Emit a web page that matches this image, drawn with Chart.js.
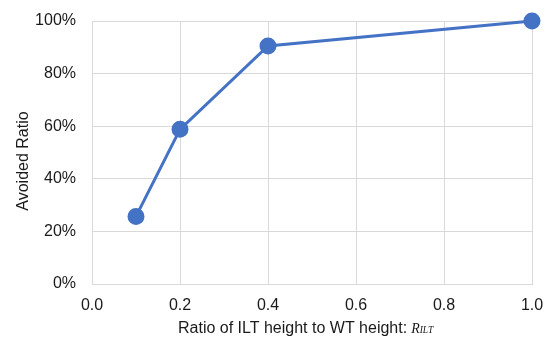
<!DOCTYPE html>
<html>
<head>
<meta charset="utf-8">
<script src="https://cdn.jsdelivr.net/npm/chart.js@4/dist/chart.umd.min.js"></script>
<style>
  html, body { margin: 0; padding: 0; background: #fff; }
  #wrap { width: 545px; height: 338px; position: relative; }
</style>
</head>
<body>
<div id="wrap"><canvas id="c" width="545" height="338"></canvas></div>
<script>
// Ratio of ILT height to WT height, and the corresponding avoided ratio (%)
const ratioILT = [0.1, 0.2, 0.4, 1.0];
const avoidedRatio = [25.7, 58.8, 90.5, 100];
const xTicks = [0.0, 0.2, 0.4, 0.6, 0.8, 1.0];
const yTicks = [0, 20, 40, 60, 80, 100];

const BLUE = '#4472C4';
const GRID = '#d9d9d9';
const TEXT = '#1a1a1a';
const SANS = '"Liberation Sans", Arial, sans-serif';
const SERIF = '"Liberation Serif", "Times New Roman", serif';

// Plot area edges in canvas pixels
const AREA = { left: 92, top: 21, right: 532, bottom: 284 };

// Pin the plot area so the axes sit at fixed positions
const pinArea = {
  id: 'pinArea',
  afterLayout(chart) {
    const ca = chart.chartArea;
    Object.assign(ca, AREA);
    ca.width = AREA.right - AREA.left;
    ca.height = AREA.bottom - AREA.top;
    const xs = chart.scales.x, ys = chart.scales.y;
    xs.left = AREA.left; xs.right = AREA.right; xs.width = AREA.right - AREA.left;
    xs.top = AREA.bottom; xs.bottom = AREA.bottom + 54; xs.height = 54;
    ys.left = 0; ys.right = AREA.left; ys.width = AREA.left;
    ys.top = AREA.top; ys.bottom = AREA.bottom; ys.height = AREA.bottom - AREA.top;
    xs.configure(); ys.configure();
    xs._gridLineItems = null; ys._gridLineItems = null;
    xs._labelItems = null; ys._labelItems = null;
  }
};

// Axis titles drawn by hand so the R_ILT symbol can be set in italic serif
const axisTitles = {
  id: 'axisTitles',
  afterDraw(chart) {
    const { ctx } = chart;
    ctx.save();
    ctx.fillStyle = TEXT;
    ctx.textBaseline = 'alphabetic';

    // x-axis title
    const main = 'Ratio of ILT height to WT height:';
    const yBase = 333;
    let x = 178;
    ctx.textAlign = 'left';
    ctx.font = '16px ' + SANS;
    ctx.fillText(main, x, yBase);
    x += ctx.measureText(main).width + 4;
    ctx.font = 'italic 14px ' + SERIF;
    ctx.fillText('R', x, yBase);
    x += ctx.measureText('R').width;
    ctx.font = 'italic 9.5px ' + SERIF;
    ctx.fillText('ILT', x, yBase);

    // y-axis title
    ctx.translate(28, 161);
    ctx.rotate(-Math.PI / 2);
    ctx.textAlign = 'center';
    ctx.font = '16px ' + SANS;
    ctx.fillText('Avoided Ratio', 0, 0);
    ctx.restore();
  }
};

new Chart(document.getElementById('c'), {
  type: 'scatter',
  data: {
    datasets: [{
      data: ratioILT.map((r, i) => ({ x: r, y: avoidedRatio[i] })),
      showLine: true,
      clip: false,
      borderColor: BLUE,
      backgroundColor: BLUE,
      borderWidth: 3,
      pointRadius: 7,
      pointHoverRadius: 7,
      pointBackgroundColor: BLUE,
      pointBorderColor: BLUE,
      tension: 0
    }]
  },
  options: {
    responsive: false,
    animation: false,
    events: [],
    layout: { padding: { top: 21, right: 13, left: 0, bottom: 0 } },
    plugins: { legend: { display: false }, tooltip: { enabled: false } },
    scales: {
      x: {
        type: 'linear',
        min: 0, max: 1,
        afterFit(scale) { scale.height = 54; },
        afterBuildTicks(scale) { scale.ticks = xTicks.map(v => ({ value: v })); },
        grid: { color: GRID, lineWidth: 1, drawTicks: false },
        border: { color: GRID, width: 1 },
        ticks: {
          padding: 12,
          color: TEXT,
          font: { family: SANS, size: 16 },
          callback: v => Number(v).toFixed(1)
        }
      },
      y: {
        min: 0, max: 100,
        afterFit(scale) { scale.width = 92; },
        afterBuildTicks(scale) { scale.ticks = yTicks.map(v => ({ value: v })); },
        grid: { color: GRID, lineWidth: 1, drawTicks: false },
        border: { color: GRID, width: 1 },
        ticks: {
          padding: 16,
          color: TEXT,
          font: { family: SANS, size: 16 },
          callback: v => v + '%'
        }
      }
    }
  },
  plugins: [pinArea, axisTitles]
});
</script>
</body>
</html>
